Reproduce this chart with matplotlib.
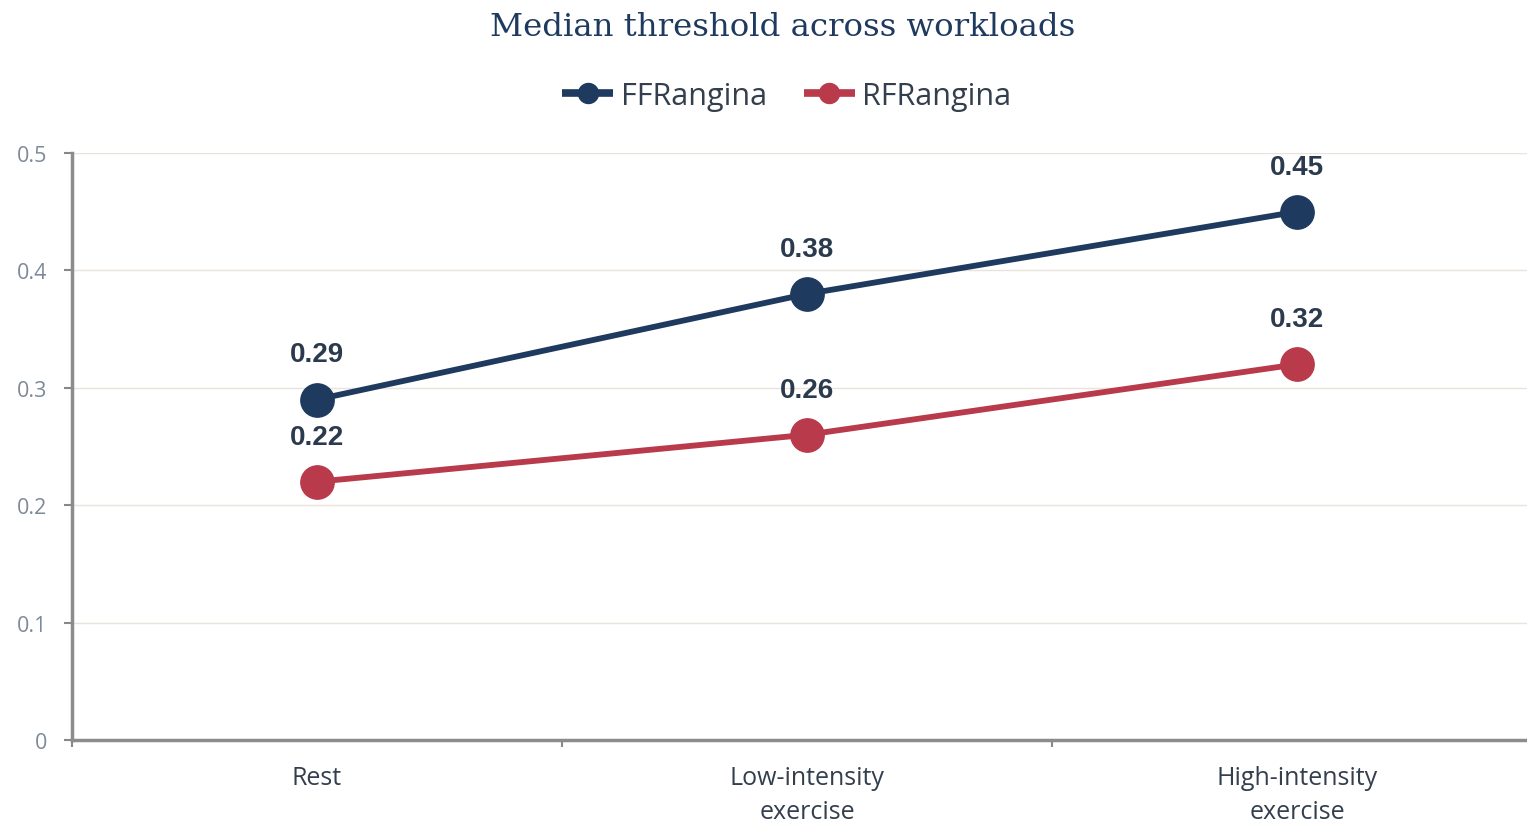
import matplotlib
matplotlib.use("Agg")
import matplotlib.pyplot as plt

categories = ["Rest", "Low-intensity\nexercise", "High-intensity\nexercise"]
series_names = ["FFRangina", "RFRangina"]
ffr = [0.29, 0.38, 0.45]
rfr = [0.22, 0.26, 0.32]
yticks = [0, 0.1, 0.2, 0.3, 0.4, 0.5]
ytick_labels = ["0", "0.1", "0.2", "0.3", "0.4", "0.5"]

navy = "#1f3a5f"
red = "#b83a4b"

W, H = 1527, 828
fig = plt.figure(figsize=(W/100, H/100), dpi=100)
ax = fig.add_axes([72/W, (H-741)/H, 1470/W, 587/H])

x = list(range(len(categories)))
for vals, col, name in [(ffr, navy, series_names[0]), (rfr, red, series_names[1])]:
    ax.plot(x, vals, color=col, lw=4.2, marker="o", markersize=24, label=name,
            solid_capstyle="butt", zorder=3)
    for xi, v in zip(x, vals):
        ax.annotate(f"{v:.2f}", (xi, v), xytext=(0, 32.5), textcoords="offset points",
                    ha="center", va="center", fontsize=20, fontweight="bold",
                    color="#2b3a4d", family="Liberation Sans", zorder=4)

ax.set_xlim(-0.5, 2.5)
ax.set_ylim(0, 0.5)
ax.set_yticks(yticks)
ax.set_yticklabels(ytick_labels, fontsize=15.5, color="#7d8a99", family="Open Sans")
ax.set_xticks([-0.5, 0.5, 1.5])
ax.set_xticklabels([])
ax.set_xticks(x, minor=True)
ax.set_xticklabels(categories, minor=True, fontsize=18, color="#333f4d",
                   family="Open Sans", linespacing=1.5)
ax.tick_params(axis="x", which="minor", length=0, pad=18)
ax.tick_params(axis="x", which="major", length=5, width=1.5, color="#888888", direction="out")
ax.tick_params(axis="y", length=6, width=1.5, color="#888888", direction="out", pad=12)

ax.grid(axis="y", color="#e8e4dc", lw=1)
ax.set_axisbelow(True)
for s in ["top", "right"]:
    ax.spines[s].set_visible(False)
for s in ["left", "bottom"]:
    ax.spines[s].set_color("#8c8c8c")
    ax.spines[s].set_linewidth(2.5)

fig.text(783/W, 1 - 27/H, "Median threshold across workloads", ha="center", va="center",
         fontsize=23.3, color=navy, family="DejaVu Serif")

leg = fig.legend(loc="center", bbox_to_anchor=(787/W, 1 - 97/H), ncol=2, frameon=False,
                 prop={"family": "Open Sans", "size": 22}, markerscale=0.6,
                 handlelength=1.67, columnspacing=1.2, handletextpad=0.25, labelcolor="#333f4d")
for h in leg.legend_handles:
    h.set_linewidth(5.5)

fig.savefig("out.png", dpi=100)
